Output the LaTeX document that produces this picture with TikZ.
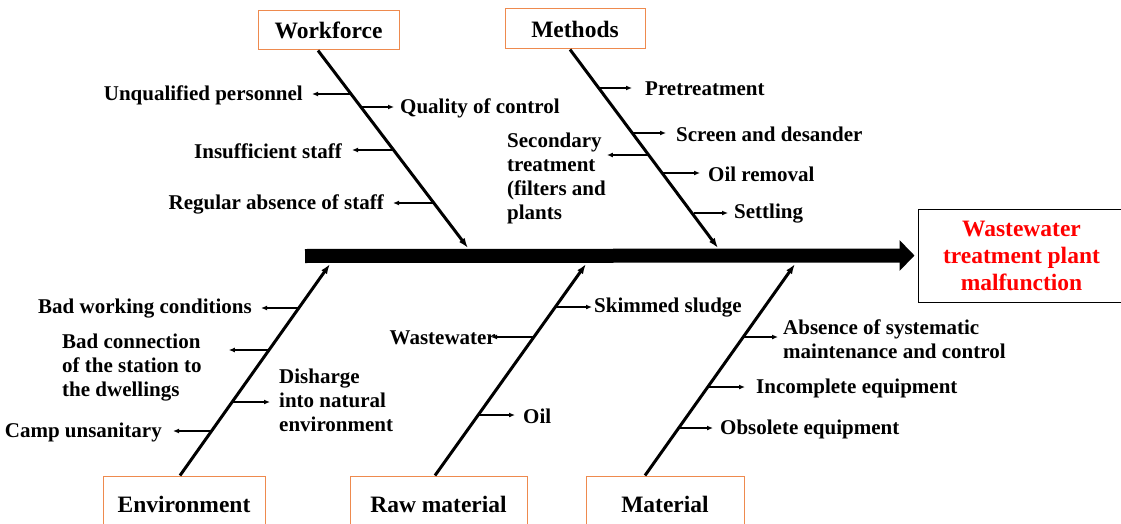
\documentclass[tikz,border=0pt]{standalone}
\usepackage{fontspec}
\setmainfont{Liberation Serif}
\usetikzlibrary{arrows.meta,positioning}
\definecolor{boxorange}{HTML}{EE8A4E}
\definecolor{effred}{HTML}{FF0000}
\tikzset{
  catbox/.style={
    draw=boxorange,
    line width=1pt,
    minimum width=141pt,
    minimum height=39pt,
    inner sep=0pt,
    align=center,
    font=\bfseries\fontsize{23.5}{26}\selectfont
  },
  effect/.style={
    draw=black,
    line width=1pt,
    minimum width=207pt,
    minimum height=93pt,
    align=center,
    text=effred,
    font=\bfseries\fontsize{23.5}{27}\selectfont
  },
  cause/.style={
    inner sep=0pt,
    font=\bfseries\fontsize{21}{24}\selectfont
  },
  spine/.style={
    -{Triangle[length=15pt,width=30pt]},
    line width=14pt
  },
  bone/.style={
    -{Latex[length=10pt,width=7pt]},
    line width=3pt
  },
  sub/.style={
    -{Latex[length=6pt,width=5pt]},
    line width=1.5pt
  }
}

\begin{document}
\begin{tikzpicture}[x=1pt,y=-1pt]
  \useasboundingbox (0,0) rectangle (1121,524);

  % categories and effect
  \node[catbox] (wf) at (328.5,30.5) {Workforce};
  \node[catbox, minimum width=140pt, minimum height=40pt] (mt) at (575,29) {Methods};
  \node[catbox, minimum width=162pt, minimum height=56pt] (env) at (184,504) {Environment};
  \node[catbox, minimum width=177pt, minimum height=56pt] (raw) at (438.5,504) {Raw material};
  \node[catbox, minimum width=158pt, minimum height=56pt] (mat) at (665,504) {Material};
  \node[effect] (eff) at (1021.5,255.5) {Wastewater\\treatment plant\\malfunction};

  % spine
  \coordinate (tail) at (305,256);
  \draw[spine, shorten >=3pt] (tail) -- (eff.west);

  \coordinate (jwf) at (468,248);
  \coordinate (jmt) at (718,248);
  \coordinate (jenv) at (330,264);
  \coordinate (jraw) at (586,264);
  \coordinate (jmat) at (795,264);

  \draw[bone] ([xshift=-10.5pt]wf.south) -- (jwf);
  \draw[bone] ([xshift=-5pt]mt.south) -- (jmt);
  \draw[bone] ([xshift=-4pt]env.north) -- (jenv);
  \draw[bone] ([xshift=-3.5pt]raw.north) -- (jraw);
  \draw[bone] ([xshift=-20pt]mat.north) -- (jmat);

  % workforce
  \coordinate (wf1) at (351,94);
  \coordinate (wf2) at (361,107);
  \coordinate (wf3) at (393,150);
  \coordinate (wf4) at (434,203);
  \node[cause, anchor=east] (unq) at (303,95) {Unqualified personnel};
  \node[cause, anchor=west] (qual) at (400,108) {Quality of control};
  \node[cause, anchor=east] (insuf) at (342,151) {Insufficient staff};
  \node[cause, anchor=east] (absn) at (384,204) {Regular absence of staff};
  \draw[sub, shorten >=9pt] (wf1) -- (wf1 -| unq.east);
  \draw[sub, shorten >=6pt] (wf2) -- (wf2 -| qual.west);
  \draw[sub, shorten >=10pt] (wf3) -- (wf3 -| insuf.east);
  \draw[sub, shorten >=9pt] (wf4) -- (wf4 -| absn.east);

  % methods
  \coordinate (mt1) at (599,88);
  \coordinate (mt2) at (632,133);
  \coordinate (mt3) at (649,155);
  \coordinate (mt4) at (663,173);
  \coordinate (mt5) at (694,213);
  \node[cause, anchor=west] (pret) at (645,89) {Pretreatment};
  \node[cause, anchor=west] (scr) at (676,134) {Screen and desander};
  \node[cause, anchor=north west, align=left] (sec) at (507,133)
    {Secondary\\treatment\\(filters and\\plants};
  \node[cause, anchor=west] (oilr) at (708,174) {Oil removal};
  \node[cause, anchor=west] (sett) at (734,214) {Settling};
  \draw[sub, shorten >=13pt] (mt1) -- (mt1 -| pret.west);
  \draw[sub, shorten >=10pt] (mt2) -- (mt2 -| scr.west);
  \draw[sub, shorten >=1pt] (mt3) -- (mt3 -| sec.east);
  \draw[sub, shorten >=8pt] (mt4) -- (mt4 -| oilr.west);
  \draw[sub, shorten >=6pt] (mt5) -- (mt5 -| sett.west);

  % environment
  \coordinate (en1) at (299,308);
  \coordinate (en2) at (270,350);
  \coordinate (en3) at (233,402);
  \coordinate (en4) at (212,431);
  \node[cause, anchor=east] (badw) at (252,309) {Bad working conditions};
  \node[cause, anchor=north west, align=left] (badc) at (62,334)
    {Bad connection\\of the station to\\the dwellings};
  \node[cause, anchor=north west, align=left] (dish) at (279,369)
    {Disharge\\into natural\\environment};
  \node[cause, anchor=east] (camp) at (162,432) {Camp unsanitary};
  \draw[sub, shorten >=9pt] (en1) -- (en1 -| badw.east);
  \draw[sub, shorten >=27pt] (en2) -- (en2 -| badc.east);
  \draw[sub, shorten >=9pt] (en3) -- (en3 -| dish.west);
  \draw[sub, shorten >=11pt] (en4) -- (en4 -| camp.east);

  % raw material
  \coordinate (rw1) at (556,307);
  \coordinate (rw2) at (535,337);
  \coordinate (rw3) at (479,415);
  \node[cause, anchor=west] (skim) at (594,308) {Skimmed sludge};
  \node[cause, anchor=east] (wast) at (496,338) {Wastewater};
  \node[cause, anchor=west] (oil) at (523,416) {Oil};
  \draw[sub, shorten >=2pt] (rw1) -- (rw1 -| skim.west);
  \draw[sub, shorten >=-5pt] (rw2) -- (rw2 -| wast.east);
  \draw[sub, shorten >=8pt] (rw3) -- (rw3 -| oil.west);

  % material
  \coordinate (ma1) at (744,337);
  \coordinate (ma2) at (708,387);
  \coordinate (ma3) at (679,428);
  \node[cause, anchor=north west, align=left] (absc) at (783,320)
    {Absence of systematic\\maintenance and control};
  \node[cause, anchor=west] (inc) at (756,388) {Incomplete equipment};
  \node[cause, anchor=west] (obs) at (720,429) {Obsolete equipment};
  \draw[sub, shorten >=5pt] (ma1) -- (ma1 -| absc.west);
  \draw[sub, shorten >=11pt] (ma2) -- (ma2 -| inc.west);
  \draw[sub, shorten >=7pt] (ma3) -- (ma3 -| obs.west);
\end{tikzpicture}
\end{document}
